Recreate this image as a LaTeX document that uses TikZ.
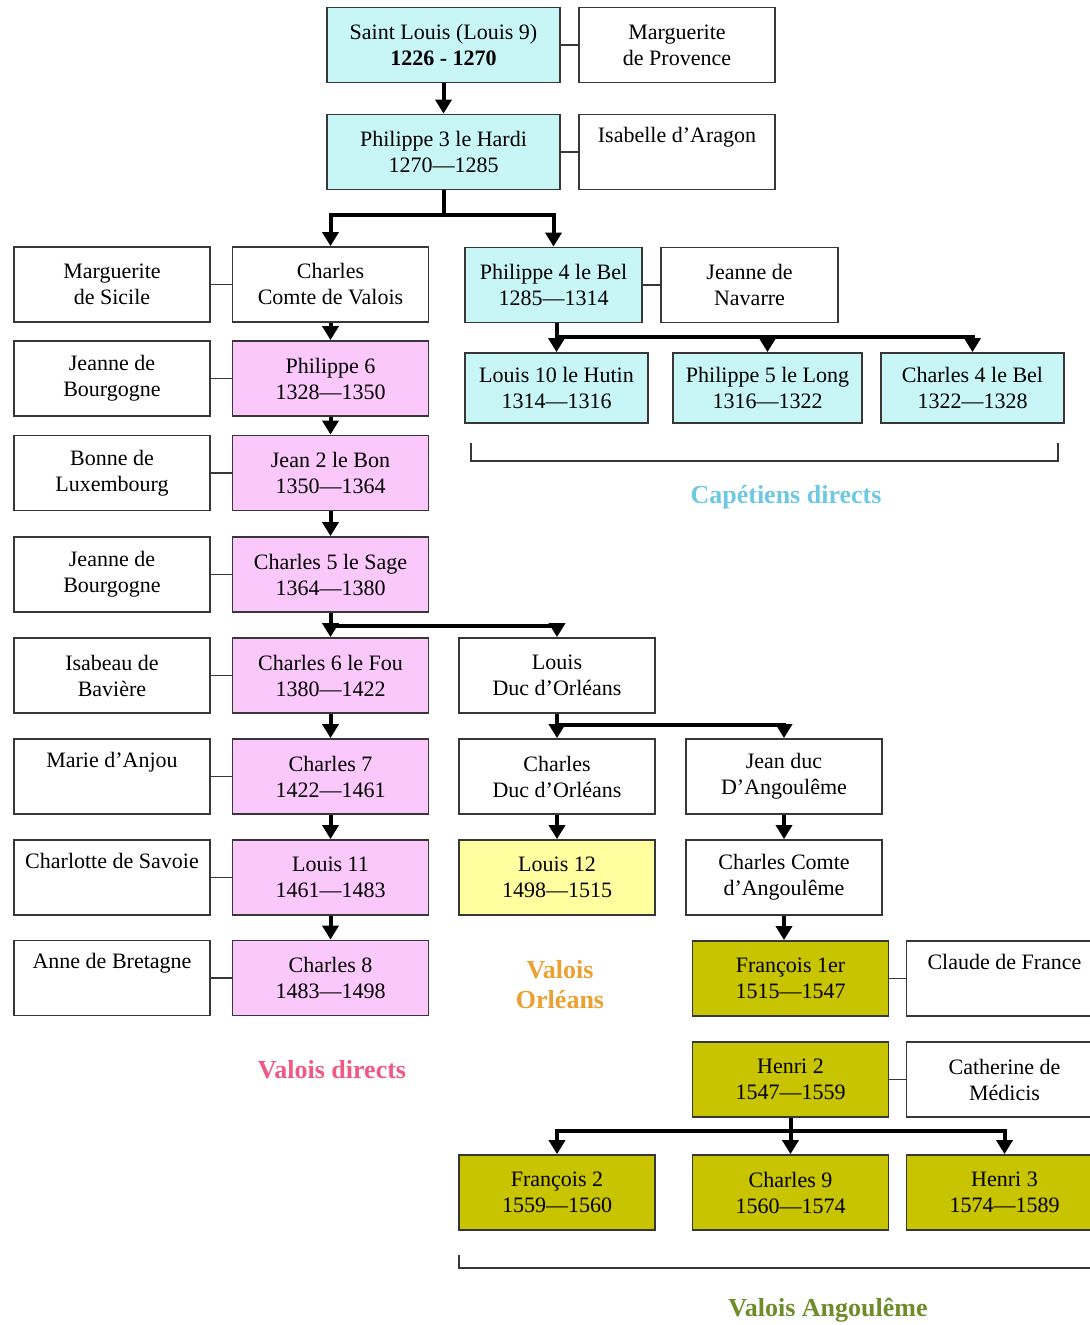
\documentclass[tikz,border=0pt]{standalone}
\usepackage{fontspec}
\setmainfont{Liberation Serif}
\usepackage{tikz}
\usetikzlibrary{shapes,arrows,arrows.meta}

\definecolor{boxline}{RGB}{55,55,55}
\definecolor{capet}{RGB}{200,245,245}
\definecolor{valois}{RGB}{250,200,250}
\definecolor{orl}{RGB}{255,255,160}
\definecolor{ang}{RGB}{200,196,0}
\definecolor{capetlbl}{RGB}{110,200,225}
\definecolor{vallbl}{RGB}{240,90,130}
\definecolor{orllbl}{RGB}{235,160,50}
\definecolor{anglbl}{RGB}{110,140,40}

\tikzset{
  box/.style={draw=boxline, line width=0.9pt, minimum width=98pt, minimum height=37.5pt,
    align=center, inner sep=1pt, font=\fontsize{11}{13}\selectfont},
  whitebox/.style={box, fill=white},
  capetbox/.style={box, fill=capet},
  valoisbox/.style={box, fill=valois},
  orlbox/.style={box, fill=orl},
  angbox/.style={box, fill=ang},
  arr/.style={-{Triangle[length=7pt,width=8pt]}, line width=2pt},
  wed/.style={draw=boxline, line width=0.8pt},
  brk/.style={draw=boxline, line width=0.8pt},
  grouplabel/.style={font=\fontsize{13}{15}\selectfont\bfseries, align=center}
}

\begin{document}
\begin{tikzpicture}[x=0.5pt,y=-0.5pt]
            \useasboundingbox (0,0) rectangle (1089,1325);
            % Capetiens directs:
            \node[capetbox, minimum width=116.5pt] (stlouis) at (443.5,45) {Saint Louis (Louis 9)\\\textbf{1226 - 1270}};
            \node[whitebox] (margprov) at (677,45) {Marguerite\\de Provence};
            \node[capetbox, minimum width=116.5pt] (phil3) at (443.5,152) {Philippe 3 le Hardi\\1270—1285};
            \node[whitebox] (isabelle) at (677,152) {Isabelle d’Aragon\\\strut};
            \node[capetbox, minimum width=88.5pt] (phil4) at (553.5,285) {Philippe 4 le Bel\\1285—1314};
            \node[whitebox, minimum width=88.5pt] (jeannenav) at (749.5,285) {Jeanne de\\Navarre};
            \node[capetbox, minimum width=91.5pt, minimum height=35pt] (louis10) at (556.5,388) {Louis 10 le Hutin\\1314—1316};
            \node[capetbox, minimum width=94.5pt, minimum height=35pt] (phil5) at (767.5,388) {Philippe 5 le Long\\1316—1322};
            \node[capetbox, minimum width=91.5pt, minimum height=35pt] (charles4) at (972.5,388) {Charles 4 le Bel\\1322—1328};

            % Valois directs:
            \node[whitebox] (margsicile) at (112,284.5) {Marguerite\\de Sicile};
            \node[whitebox] (charlesvalois) at (330.5,284.5) {Charles\\Comte de Valois};
            \node[whitebox] (jeanneb1) at (112,378.5) {Jeanne de\\Bourgogne};
            \node[valoisbox] (phil6) at (330.5,378.5) {Philippe 6\\1328—1350};
            \node[whitebox] (bonne) at (112,473) {Bonne de\\Luxembourg};
            \node[valoisbox] (jean2) at (330.5,473) {Jean 2 le Bon\\1350—1364};
            \node[whitebox] (jeanneb2) at (112,574.5) {Jeanne de\\Bourgogne};
            \node[valoisbox] (charles5) at (330.5,574.5) {Charles 5 le Sage\\1364—1380};
            \node[whitebox] (isabeau) at (112,675.5) {Isabeau de\\Bavière};
            \node[valoisbox] (charles6) at (330.5,675.5) {Charles 6 le Fou\\1380—1422};
            \node[whitebox] (marie) at (112,776.5) {Marie d’Anjou\\\strut};
            \node[valoisbox] (charles7) at (330.5,776.5) {Charles 7\\1422—1461};
            \node[whitebox] (charlotte) at (112,877.5) {Charlotte de Savoie\\\strut};
            \node[valoisbox] (louis11) at (330.5,877.5) {Louis 11\\1461—1483};
            \node[whitebox] (anne) at (112,978) {Anne de Bretagne\\\strut};
            \node[valoisbox] (charles8) at (330.5,978) {Charles 8\\1483—1498};

            % Orleans and Angouleme:
            \node[whitebox] (louisorl) at (557,675.5) {Louis\\Duc d’Orléans};
            \node[whitebox] (charlesorl) at (557,776.5) {Charles\\Duc d’Orléans};
            \node[whitebox] (jeanang) at (784,776.5) {Jean duc\\D’Angoulême};
            \node[orlbox] (louis12) at (557,877.5) {Louis 12\\1498—1515};
            \node[whitebox] (charlesang) at (784,877.5) {Charles Comte\\d’Angoulême};
            \node[angbox] (francois1) at (790.5,978.5) {François 1er\\1515—1547};
            \node[whitebox] (claude) at (1004.5,978.5) {Claude de France\\\strut};
            \node[angbox] (henri2) at (790.5,1079.5) {Henri 2\\1547—1559};
            \node[whitebox] (catherine) at (1004.5,1079.5) {Catherine de\\Médicis};
            \node[angbox] (francois2) at (557,1192.5) {François 2\\1559—1560};
            \node[angbox] (charles9) at (790.5,1192.5) {Charles 9\\1560—1574};
            \node[angbox] (henri3) at (1004.5,1192.5) {Henri 3\\1574—1589};

            % marriages
            \foreach \a/\b in {stlouis/margprov, phil3/isabelle, phil4/jeannenav,
                margsicile/charlesvalois, jeanneb1/phil6, bonne/jean2, jeanneb2/charles5,
                isabeau/charles6, marie/charles7, charlotte/louis11, anne/charles8,
                francois1/claude, henri2/catherine}
                \draw[wed] (\a) -- (\b);

            % straight descent
            \foreach \a/\b in {stlouis/phil3, charlesvalois/phil6, phil6/jean2, jean2/charles5,
                charles5/charles6, charles6/charles7, charles7/louis11, louis11/charles8,
                louisorl/charlesorl, charlesorl/louis12, jeanang/charlesang, henri2/charles9}
                \draw[arr] (\a) -- (\b);
            \draw[arr] (charlesang.south) -- (charlesang.south |- francois1.north);

            % forks
            \draw[arr] (phil3.south) -- ++(0,25) -| (charlesvalois.north);
            \draw[arr] (phil3.south) ++(0,25) -| (phil4.north);
            \coordinate (b4) at ([yshift=-7pt]louis10.north |- phil4.south);
            \draw[arr] (louis10.north |- phil4.south) -- (louis10.north);
            \foreach \c in {phil5, charles4}
                \draw[arr] (b4) -| (\c.north);
            \coordinate (b5) at ([yshift=-6.5pt]charles5.south);
            \draw[arr] (b5) -| (louisorl.north);
            \coordinate (b6) at ([yshift=-5.5pt]louisorl.south);
            \draw[arr] (b6) -| (jeanang.north);
            \coordinate (b7) at ([yshift=-6.5pt]henri2.south);
            \foreach \c in {francois2, henri3}
                \draw[arr] (b7) -| (\c.north);

            % brackets and group names
            \draw[brk] (471,443) -- (471,461) -- (1058,461) -- (1058,443);
            \draw[brk] (459,1255) -- (459,1268) -- (1100,1268);
            \node[grouplabel, text=capetlbl] (capetiens) at (786,497) {Capétiens directs};
            \node[grouplabel, text=orllbl] (orleans) at (560,985) {Valois\\Orléans};
            \node[grouplabel, text=vallbl] (valoisd) at (332,1070) {Valois directs};
            \node[grouplabel, text=anglbl] (angouleme) at (828,1310) {Valois Angoulême};
        \end{tikzpicture}
\end{document}
